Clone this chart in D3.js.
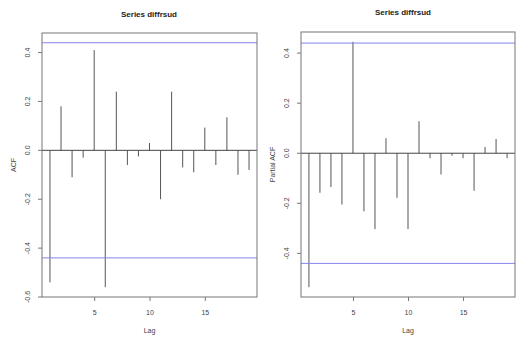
<!DOCTYPE html>
<meta charset="utf-8">
<style>
body { margin: 0; background: #fff; }
svg { font-family: "Liberation Sans", Arial, sans-serif; }
</style>
<svg width="516" height="340"></svg>
<script src="https://d3js.org/d3.v7.min.js"></script>
<script>

// lags shown on both plots
var lags = d3.range(1, 20);

// autocorrelation of the differenced series
var acfValues = [-0.54, 0.18, -0.11, -0.03, 0.41, -0.56, 0.24, -0.06, -0.025, 0.03,
                 -0.2, 0.24, -0.07, -0.09, 0.093, -0.06, 0.135, -0.1, -0.08];

// partial autocorrelation
var pacfValues = [-0.535, -0.158, -0.135, -0.205, 0.445, -0.232, -0.303, 0.06, -0.178, -0.303,
                  0.128, -0.02, -0.085, -0.01, -0.02, -0.15, 0.025, 0.057, -0.02];

// confidence bound (blue lines)
var clim = 0.44;

var acfTicks = [-0.6, -0.4, -0.2, 0.0, 0.2, 0.4],
    pacfTicks = [-0.4, -0.2, 0.0, 0.2, 0.4],
    lagTicks = [5, 10, 15];

var svg = d3.select("svg");

// R style labels, plain hyphen for minus
var fmt = function(d) { return (d < 0 ? "-" : "") + Math.abs(d).toFixed(1); };

// same look as R's plot.acf
function panel(opt) {
  var g = svg.append("g");

  // xlim / ylim padded by 4% like R does
  var xe = d3.extent(lags), xp = (xe[1] - xe[0]) * 0.04;
  var ye = d3.extent(opt.values.concat([clim, -clim])), yp = (ye[1] - ye[0]) * 0.04;

  var x = d3.scaleLinear().domain([xe[0] - xp, xe[1] + xp]).range([opt.left, opt.right]);
  var y = d3.scaleLinear().domain([ye[0] - yp, ye[1] + yp]).range([opt.bottom, opt.top]);

  // bars
  g.selectAll("line.bar")
    .data(opt.values)
    .enter().append("line")
      .attr("class", "bar")
      .attr("x1", function(d, i) { return x(lags[i]); })
      .attr("x2", function(d, i) { return x(lags[i]); })
      .attr("y1", y(0))
      .attr("y2", function(d) { return y(d); })
      .attr("stroke", "#555")
      .attr("stroke-width", 1);

  // zero line
  g.append("line")
      .attr("x1", opt.left).attr("x2", opt.right)
      .attr("y1", y(0)).attr("y2", y(0))
      .attr("stroke", "#444").attr("stroke-width", 1);

  // confidence lines
  g.selectAll("line.ci")
    .data([clim, -clim])
    .enter().append("line")
      .attr("class", "ci")
      .attr("x1", opt.left).attr("x2", opt.right)
      .attr("y1", function(d) { return y(d); })
      .attr("y2", function(d) { return y(d); })
      .attr("stroke", "#8484ec").attr("stroke-width", 1);

  // box
  g.append("rect")
      .attr("x", opt.left).attr("y", opt.top)
      .attr("width", opt.right - opt.left).attr("height", opt.bottom - opt.top)
      .attr("fill", "none").attr("stroke", "#777").attr("stroke-width", 1);

  // y axis, labels turned like R (las = 0)
  var ya = g.append("g")
      .attr("transform", "translate(" + opt.left + ",0)")
      .call(d3.axisLeft(y).tickValues(opt.ticks).tickSize(4).tickFormat(fmt));
  ya.select(".domain").remove();
  ya.selectAll(".tick").attr("transform", null);
  ya.selectAll(".tick line")
      .attr("y1", function(d) { return y(d); })
      .attr("y2", function(d) { return y(d); })
      .attr("stroke", "#777");
  ya.selectAll(".tick text")
      .attr("x", -12).attr("dy", 0)
      .attr("y", function(d) { return y(d); })
      .attr("transform", function(d) { return "rotate(-90," + (-12) + "," + y(d) + ")"; })
      .attr("text-anchor", "middle")
      .attr("font-size", 7).attr("fill", "#444");

  var xa = g.append("g")
      .attr("transform", "translate(0," + opt.bottom + ")")
      .call(d3.axisBottom(x).tickValues(lagTicks).tickSize(4).tickPadding(9));
  xa.select(".domain").remove();
  xa.selectAll("line").attr("stroke", "#777");
  xa.selectAll("text").attr("font-size", 7).attr("fill", "#444");

  // labels
  g.append("text")
      .attr("x", (opt.left + opt.right) / 2).attr("y", 333)
      .attr("text-anchor", "middle").attr("font-size", 7).attr("fill", "#444")
      .text("Lag");

  g.append("text")
      .attr("transform", "translate(" + (opt.left - 26) + "," + ((opt.top + opt.bottom) / 2) + ") rotate(-90)")
      .attr("text-anchor", "middle").attr("font-size", 7).attr("fill", "#444")
      .text(opt.ylabel);

  g.append("text")
      .attr("x", opt.titleX).attr("y", opt.titleY)
      .attr("text-anchor", "middle").attr("font-size", 8).attr("font-weight", "bold").attr("fill", "#222")
      .text("Series  diffrsud");
}

panel({ values: acfValues, ticks: acfTicks, ylabel: "ACF",
        left: 42, right: 257, top: 33, bottom: 297, titleX: 149, titleY: 17 });

panel({ values: pacfValues, ticks: pacfTicks, ylabel: "Partial ACF",
        left: 301, right: 515, top: 32, bottom: 297, titleX: 403, titleY: 15 });

</script>
